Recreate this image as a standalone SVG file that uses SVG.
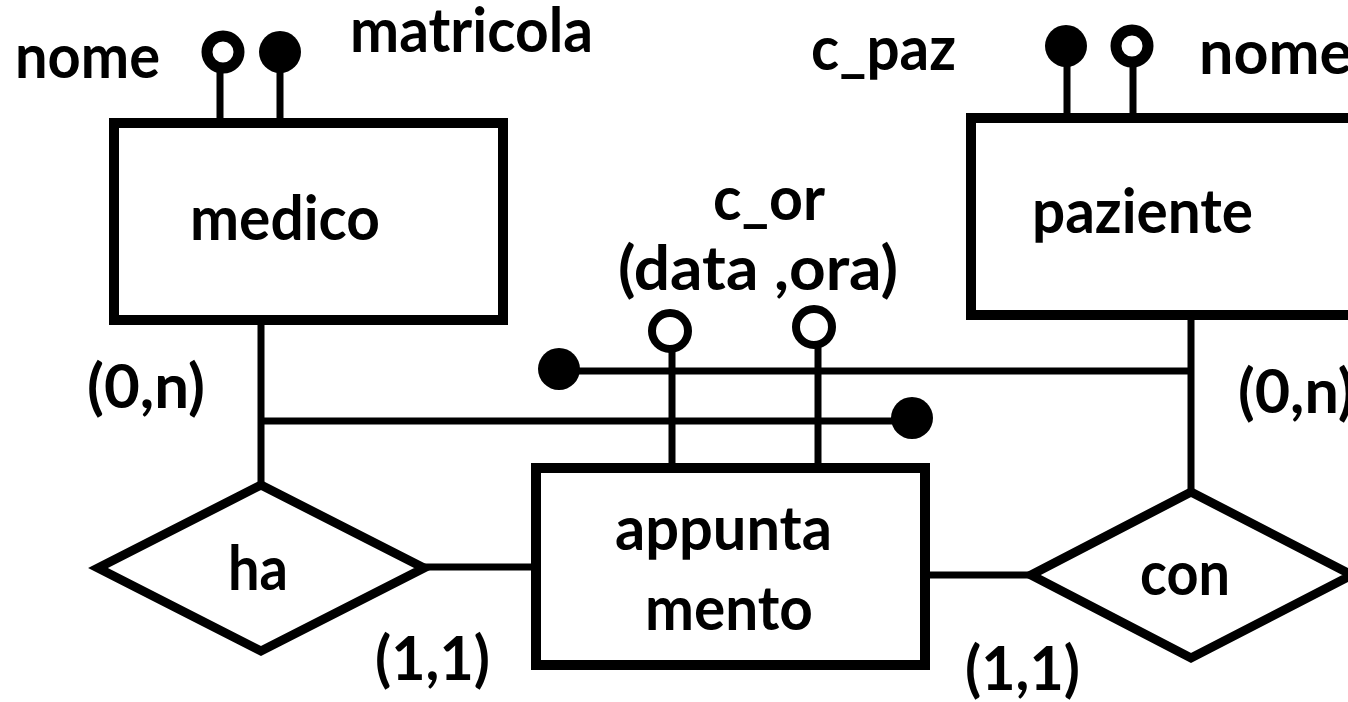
<svg xmlns="http://www.w3.org/2000/svg" width="1348" height="702" viewBox="0 0 1348 702">
  <style>
    .ent { fill: #fff; stroke: #000; stroke-width: 10; }
    .rel { fill: #fff; stroke: #000; stroke-width: 9; stroke-linejoin: miter; }
    .ln { fill: none; stroke: #000; stroke-width: 7; }
    .dot { fill: #000; }
    .ring { fill: #fff; stroke: #000; }
    text { font-family: "Lato", "Liberation Sans", sans-serif; font-weight: bold; font-size: 61px; fill: #000; }
  </style>

  <rect width="1348" height="702" fill="#fff"/>

  <!-- connectors -->
  <g id="connectors">
    <line class="ln" x1="261" y1="320" x2="261" y2="484"/>
    <line class="ln" x1="261" y1="421" x2="912" y2="421"/>
    <circle class="dot" cx="912" cy="418" r="21"/>
    <line class="ln" x1="559" y1="371" x2="1191" y2="371"/>
    <circle class="dot" cx="559" cy="369" r="21"/>
    <line class="ln" x1="1191" y1="315" x2="1191" y2="492"/>
    <line class="ln" x1="424" y1="567" x2="536" y2="567"/>
    <line class="ln" x1="925" y1="575" x2="1032" y2="575"/>
  </g>

  <!-- medico -->
  <g id="medico">
    <line class="ln" x1="220" y1="68" x2="220" y2="123"/>
    <line class="ln" x1="280" y1="68" x2="280" y2="123"/>
    <circle class="ring" cx="223" cy="52" r="16" stroke-width="11"/>
    <circle class="dot" cx="280" cy="52" r="21"/>
    <text x="15" y="78" textLength="145" lengthAdjust="spacingAndGlyphs">nome</text>
    <text x="350" y="52" textLength="243" lengthAdjust="spacingAndGlyphs">matricola</text>
    <rect class="ent" x="114" y="123" width="389" height="197"/>
    <text x="190" y="240" textLength="190" lengthAdjust="spacingAndGlyphs">medico</text>
  </g>

  <!-- paziente -->
  <g id="paziente">
    <line class="ln" x1="1067" y1="62" x2="1067" y2="118"/>
    <line class="ln" x1="1133" y1="62" x2="1133" y2="118"/>
    <circle class="dot" cx="1066" cy="46" r="21"/>
    <circle class="ring" cx="1132" cy="46" r="16" stroke-width="11"/>
    <text x="811" y="70" textLength="145" lengthAdjust="spacingAndGlyphs">c_paz</text>
    <text x="1199" y="74">nome</text>
    <rect class="ent" x="971" y="118" width="400" height="197"/>
    <text x="1032" y="233" textLength="221" lengthAdjust="spacingAndGlyphs">paziente</text>
  </g>

  <!-- appuntamento -->
  <g id="appuntamento">
    <line class="ln" x1="672" y1="350" x2="672" y2="468"/>
    <line class="ln" x1="818" y1="346" x2="818" y2="468"/>
    <circle class="ring" cx="670" cy="331" r="18" stroke-width="8"/>
    <circle class="ring" cx="814" cy="327" r="18" stroke-width="8"/>
    <text x="713" y="220" textLength="112" lengthAdjust="spacingAndGlyphs">c_or</text>
    <text x="618" y="290" textLength="280" lengthAdjust="spacingAndGlyphs">(data ,ora)</text>
    <rect class="ent" x="536" y="468" width="389" height="197"/>
    <text x="615" y="550" textLength="217" lengthAdjust="spacingAndGlyphs">appunta</text>
    <text x="645" y="630" textLength="168" lengthAdjust="spacingAndGlyphs">mento</text>
  </g>

  <!-- ha -->
  <g id="ha">
    <polygon class="rel" points="261,485 424,568 261,651 98,568"/>
    <text x="228" y="590" textLength="60" lengthAdjust="spacingAndGlyphs">ha</text>
    <text x="87" y="408" textLength="118" lengthAdjust="spacingAndGlyphs">(0,n)</text>
    <text x="375" y="680" textLength="115" lengthAdjust="spacingAndGlyphs">(1,1)</text>
  </g>

  <!-- con -->
  <g id="con">
    <polygon class="rel" points="1191,492 1352,575 1191,658 1031,575"/>
    <text x="1140" y="595" textLength="90" lengthAdjust="spacingAndGlyphs">con</text>
    <text x="1238" y="413">(0,n)</text>
    <text x="965" y="690" textLength="115" lengthAdjust="spacingAndGlyphs">(1,1)</text>
  </g>
</svg>
